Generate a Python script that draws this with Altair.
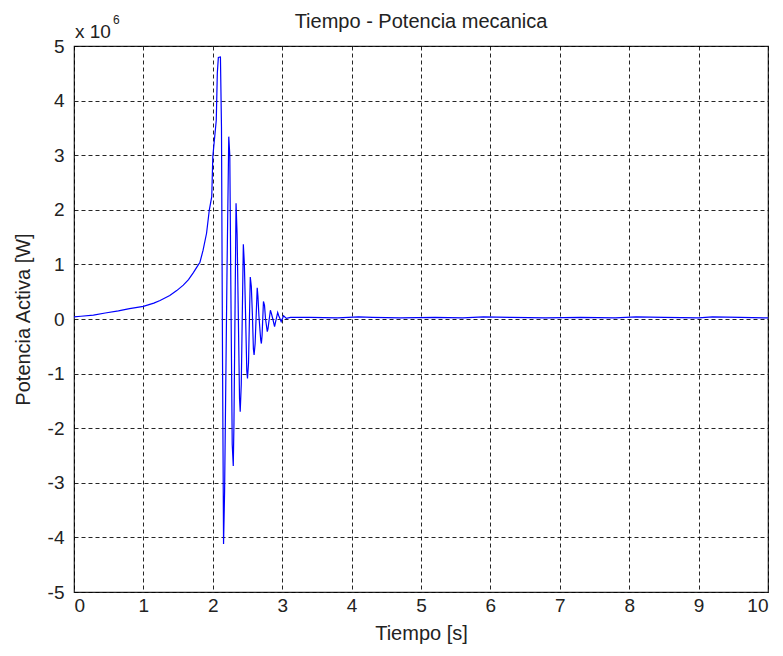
import altair as alt
import pandas as pd

# Time [s]
times = [
    0.00, 0.10, 0.28, 0.45, 0.64, 0.80, 1.00, 1.15, 1.24, 1.38, 1.48, 1.575, 1.65, 1.72, 1.77,
    1.815, 1.86, 1.91, 1.95, 1.985, 2.00, 2.05, 2.065, 2.08, 2.11,
    2.125, 2.14, 2.155, 2.17, 2.205, 2.23, 2.245, 2.26, 2.28, 2.295, 2.305,
    2.335, 2.35, 2.365, 2.385, 2.395, 2.41,
    2.44, 2.455, 2.47, 2.49, 2.50, 2.515,
    2.54, 2.555, 2.57, 2.585, 2.595, 2.61,
    2.64, 2.65, 2.665, 2.69, 2.70, 2.71,
    2.73, 2.745, 2.76, 2.785, 2.795,
    2.83, 2.845, 2.865, 2.89, 2.90,
    2.935, 2.95, 2.97, 2.985, 3.02, 3.06, 3.12,
    3.4, 3.8, 4.1, 4.3, 4.7, 5.2, 5.6, 5.9, 6.3, 6.8, 7.3, 7.8, 8.1, 8.5, 9.0, 9.2, 9.6, 10.0,
]
# Active power [x 10^6 W]
power = [
    0.04, 0.05, 0.07, 0.11, 0.15, 0.19, 0.23, 0.29, 0.34, 0.43, 0.52, 0.62, 0.72, 0.85, 0.95,
    1.04, 1.26, 1.57, 2.00, 2.24, 2.97, 3.64, 4.50, 4.79, 4.80,
    3.52, -0.73, -4.12, -3.16, 0.90, 3.34, 3.00, 0.60, -2.30, -2.69, -1.90,
    2.12, 1.55, 0.30, -1.45, -1.70, -1.20,
    1.37, 1.00, 0.20, -0.95, -1.09, -0.80,
    0.77, 0.60, 0.10, -0.55, -0.66, -0.45,
    0.57, 0.42, 0.05, -0.38, -0.45, -0.30,
    0.32, 0.25, 0.00, -0.23, -0.18,
    0.16, 0.10, 0.00, -0.14, -0.08,
    0.12, 0.06, 0.00, -0.05, 0.06, 0.01, 0.03,
    0.03, 0.02, 0.04, 0.03, 0.02, 0.03, 0.02, 0.04, 0.03, 0.02, 0.03, 0.02, 0.04, 0.03, 0.02, 0.04, 0.03, 0.02,
]

x_ticks = list(range(0, 11))
y_ticks = list(range(-5, 6))

title_text = "Tiempo - Potencia mecanica"
x_title = "Tiempo [s]"
y_title = "Potencia Activa [W]"

df = pd.DataFrame({"t": times, "p": power, "i": list(range(len(times)))})

FONT = "Liberation Sans"
TXT = "#222222"

line = alt.Chart(df).mark_line(color="#0000ff", strokeWidth=1.2, clip=True).encode(
    x=alt.X("t:Q", scale=alt.Scale(domain=[0, 10], nice=False),
            axis=alt.Axis(values=x_ticks, title=x_title, grid=True, ticks=False,
                          domain=False, labelPadding=4, titlePadding=8,
                          labelExpr="'' + datum.value")),
    y=alt.Y("p:Q", scale=alt.Scale(domain=[-5, 5], nice=False),
            axis=alt.Axis(values=y_ticks, title=y_title, grid=True, ticks=False,
                          domain=False, labelPadding=10, titlePadding=14,
                          labelExpr="'' + datum.value")),
    order="i:Q",
)

title_mark = alt.Chart(pd.DataFrame({"s": [title_text]})).mark_text(
    align="center", baseline="alphabetic", fontSize=20, font=FONT, color=TXT
).encode(x=alt.value(347), y=alt.value(-18), text="s:N")

exp_base = alt.Chart(pd.DataFrame({"s": ["x 10"]})).mark_text(
    align="left", baseline="alphabetic", fontSize=19, font=FONT, color=TXT
).encode(x=alt.value(1), y=alt.value(-8), text="s:N")

exp_sup = alt.Chart(pd.DataFrame({"s": ["6"]})).mark_text(
    align="left", baseline="alphabetic", fontSize=12, font=FONT, color=TXT
).encode(x=alt.value(39), y=alt.value(-22), text="s:N")

chart = alt.layer(line, title_mark, exp_base, exp_sup).properties(
    width=694,
    height=546,
    background="white",
    autosize=alt.AutoSizeParams(type="none"),
    padding={"left": 74, "top": 46, "right": 15, "bottom": 64},
).configure_view(
    stroke="#222222", strokeWidth=1.2
).configure_axis(
    gridColor="#000000", gridDash=[4, 3], gridOpacity=0.85, gridWidth=1,
    labelFont=FONT, labelFontSize=19, labelColor=TXT,
    titleFont=FONT, titleFontSize=20, titleFontWeight="normal", titleColor=TXT,
)

chart.save("out.html", embed_options={"renderer": "svg", "actions": False})
